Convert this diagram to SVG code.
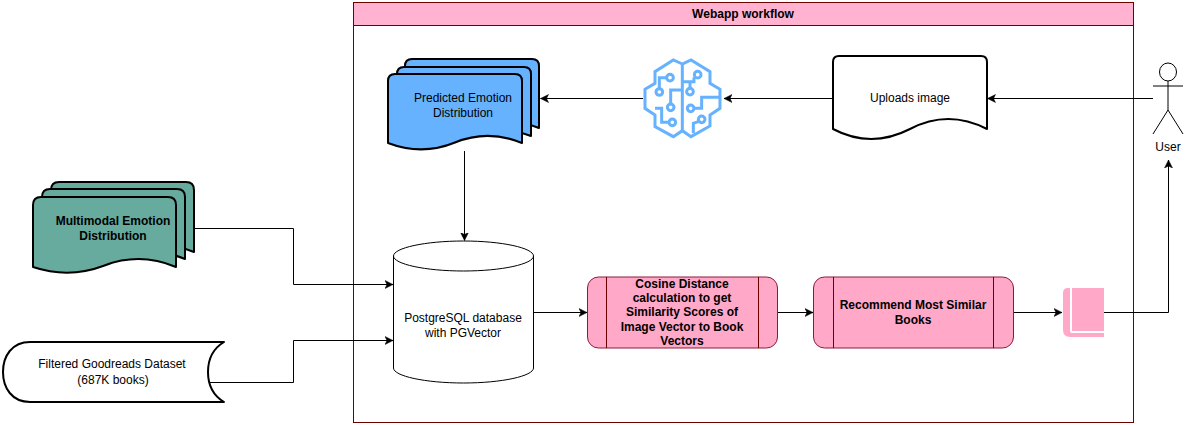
<svg xmlns="http://www.w3.org/2000/svg" width="1186" height="425" viewBox="0 0 1186 425">
<style>
text{font-family:"Liberation Sans",Arial,sans-serif;font-size:12px;fill:#000;text-anchor:middle}
.b{font-weight:bold}
.doc{stroke:#000;stroke-width:2;stroke-linejoin:round}
.blue{fill:#66B2FF}
.green{fill:#67AB9F}
.white{fill:#fff}
.edge{fill:none;stroke:#000;stroke-width:1;marker-end:url(#arr)}
.proc{fill:#FFA8C8;stroke:#8B1A3A;stroke-width:1}
.inner{stroke:#6F0000;stroke-width:1;fill:none}
.line{fill:none;stroke:#000;stroke-width:1}
.brain{fill:none;stroke:#66B2FF;stroke-width:9}
</style>
<defs>
<marker id="arr" markerUnits="userSpaceOnUse" markerWidth="9" markerHeight="9" refX="8" refY="4.5" orient="auto">
<path d="M0,0.5 L8,4.5 L0,8.5 L2,4.5 Z" fill="#000" stroke="#000" stroke-width="0.5"/>
</marker>
<path id="docP" d="M0,7 Q0,0 7,0 L127,0 Q134,0 134,7 L134,69 Q100,55 67,68.500 Q34,82 0,69 Z"/>
<path id="docM" d="M0,8 Q0,0 8,0 L135,0 Q143,0 143,8 L143,70 Q107,55 71.500,68.500 Q36,82 0,70 Z"/>
</defs>

<g id="webapp">
<rect x="353.5" y="2.5" width="780" height="420" fill="#fff" stroke="#6F0000"/>
<rect x="353.5" y="2.5" width="780" height="23" fill="#FFB3D1" stroke="#6F0000"/>
<text class="b" x="743" y="18">Webapp workflow</text>
</g>

<g id="connectors">
<path class="edge" d="M1153,98.500 L987.500,98.500"/>
<path class="edge" d="M833,98.500 L724,98.500"/>
<path class="edge" d="M643,98.500 L540.500,98.500"/>
<path class="edge" d="M464.500,151 L464.500,240.500"/>
<path class="edge" d="M194,228.500 L293.500,228.500 L293.500,284.500 L393,284.500"/>
<path class="edge" d="M210,382.500 L293.500,382.500 L293.500,340.500 L393,340.500"/>
<path class="edge" d="M533.500,312.500 L587,312.500"/>
<path class="edge" d="M777.500,312.500 L813,312.500"/>
<path class="edge" d="M1013.500,312.500 L1062,312.500"/>
<path class="edge" d="M1104,312.500 L1168.500,312.500 L1168.500,160"/>
</g>

<g id="predicted">
<use href="#docP" x="405" y="59" class="doc blue"/>
<use href="#docP" x="397" y="67" class="doc blue"/>
<use href="#docP" x="388" y="74" class="doc blue"/>
<text x="463" y="102">Predicted Emotion</text>
<text x="463" y="117">Distribution</text>
</g>

<g id="brain" transform="translate(620,40) scale(0.3333)">
<path class="brain" d="M187,72 L160,60 L105,95 L105,130 L75,148 L75,205 L105,225 L105,260 L160,290 L187,272 L213,290 L270,258 L270,225 L300,205 L300,148 L270,130 L270,95 L213,60 Z M187,72 L187,272"/>
<circle class="brain" cx="150" cy="113" r="10"/>
<circle class="brain" cx="118" cy="156" r="10"/>
<path class="brain" d="M140,113 L118,113 L118,146"/>
<circle class="brain" cx="152" cy="202" r="10"/>
<path class="brain" d="M152,192 L152,150 L187,150"/>
<path class="brain" d="M105,205 L125,205 L125,247 L147,247"/>
<circle class="brain" cx="157" cy="247" r="10"/>
<circle class="brain" cx="233" cy="104" r="10"/>
<path class="brain" d="M187,125 L222,125 L222,112"/>
<circle class="brain" cx="210" cy="155" r="10"/>
<path class="brain" d="M210,145 L210,125"/>
<circle class="brain" cx="212" cy="205" r="10"/>
<path class="brain" d="M222,205 L245,205 L245,172 L300,172"/>
<circle class="brain" cx="245" cy="238" r="10"/>
<path class="brain" d="M237,244 L220,250 L220,280"/>
</g>

<g id="uploads">
<path class="doc white" d="M833,62 Q833,56 839,56 L981,56 Q987,56 987,62 L987,129 Q948,109 910,129 Q871,149 833,129 Z"/>
<text x="910" y="102">Uploads image</text>
</g>

<g id="user">
<ellipse class="line" cx="1168" cy="72" rx="8.500" ry="9"/>
<path class="line" d="M1168,81 L1168,110 M1153,86 L1183,86 M1153,134 L1168,110 L1183,134"/>
<text x="1168" y="151">User</text>
</g>

<g id="multimodal">
<use href="#docM" x="51" y="182" class="doc green"/>
<use href="#docM" x="42" y="189" class="doc green"/>
<use href="#docM" x="33" y="197" class="doc green"/>
<text class="b" x="113" y="225">Multimodal Emotion</text>
<text class="b" x="113" y="240">Distribution</text>
</g>

<g id="goodreads">
<path class="doc white" d="M224,342 C214,348 208,358 208,372 C208,386 214,396 224,402 L30,402 C12,402 3,388 3,372 C3,356 12,342 30,342 Z"/>
<text x="112" y="368">Filtered Goodreads Dataset</text>
<text x="113" y="384">(687K books)</text>
</g>

<g id="database">
<path fill="#fff" stroke="#000" d="M393.500,256 C393.500,248 425,241 463.500,241 C502,241 533.500,248 533.500,256 L533.500,368 C533.500,376 502,383 463.500,383 C425,383 393.500,376 393.500,368 Z"/>
<path fill="none" stroke="#000" d="M393.500,256 C393.500,264 425,271 463.500,271 C502,271 533.500,264 533.500,256"/>
<text x="463" y="322">PostgreSQL database</text>
<text x="463" y="337">with PGVector</text>
</g>

<g id="cosine">
<rect class="proc" x="587.500" y="277" width="190" height="71" rx="11"/>
<path class="inner" d="M606.500,277 L606.500,348 M758.500,277 L758.500,348"/>
<text class="b" x="682" y="288">Cosine Distance</text>
<text class="b" x="682" y="302">calculation to get</text>
<text class="b" x="682" y="316">Similarity Scores of</text>
<text class="b" x="682" y="331">Image Vector to Book</text>
<text class="b" x="682" y="345">Vectors</text>
</g>

<g id="recommend">
<rect class="proc" x="813.500" y="277" width="200" height="71" rx="11"/>
<path class="inner" d="M833.500,277 L833.500,348 M993.500,277 L993.500,348"/>
<text class="b" x="913" y="309">Recommend Most Similar</text>
<text class="b" x="913" y="324">Books</text>
</g>

<g id="book">
<path fill="#FFA8C8" d="M1072,288 L1104,288 L1104,331 L1072,331 Z M1068,288 L1070,288 L1070,331 Q1070,333 1072,333 L1104,333 L1104,337 L1070,337 Q1063,337 1063,330 L1063,293 Q1063,288 1068,288 Z"/>
</g>
</svg>
